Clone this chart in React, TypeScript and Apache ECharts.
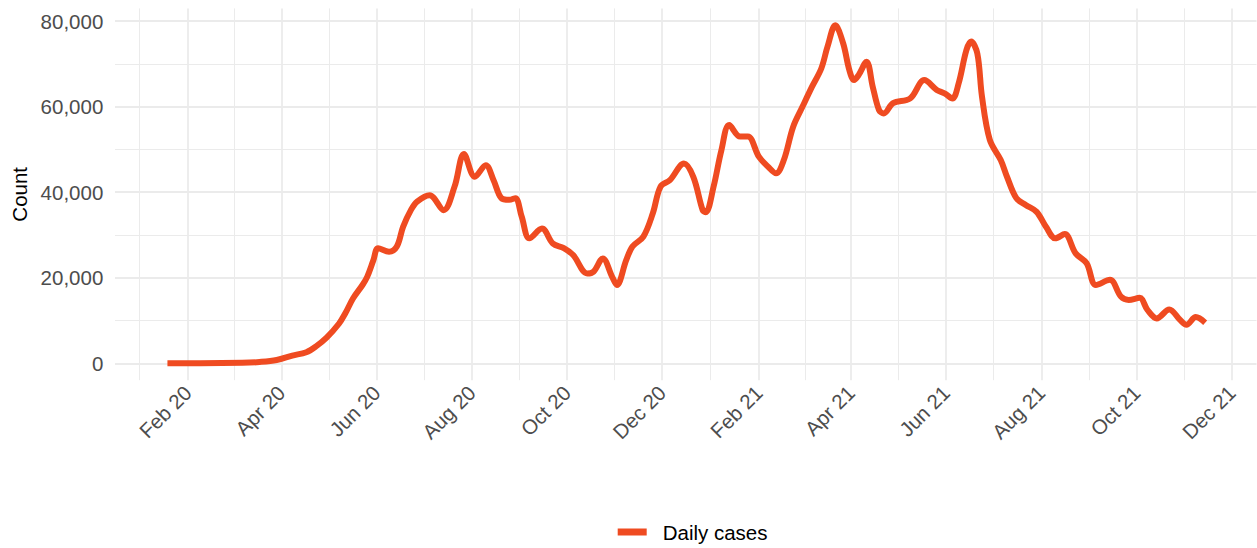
import React, { useEffect, useRef } from "react";
import * as echarts from "echarts";

// ---- data ----
const dates = [
  "2020-01-19", "2020-02-09", "2020-03-07", "2020-03-18", "2020-03-29", "2020-04-08", "2020-04-17",
  "2020-04-23", "2020-04-30", "2020-05-08", "2020-05-12", "2020-05-17", "2020-05-23", "2020-05-26",
  "2020-05-30", "2020-06-02", "2020-06-09", "2020-06-14", "2020-06-18", "2020-06-23", "2020-06-27",
  "2020-07-05", "2020-07-14", "2020-07-21", "2020-07-27", "2020-08-03", "2020-08-10", "2020-08-15",
  "2020-08-20", "2020-08-25", "2020-08-29", "2020-09-02", "2020-09-07", "2020-09-15", "2020-09-22",
  "2020-09-29", "2020-10-05", "2020-10-14", "2020-10-18", "2020-10-24", "2020-10-30", "2020-11-02",
  "2020-11-08", "2020-11-12", "2020-11-19", "2020-11-25", "2020-11-30", "2020-12-06", "2020-12-15",
  "2020-12-21", "2020-12-27", "2020-12-29", "2021-01-03", "2021-01-08", "2021-01-13", "2021-01-20",
  "2021-01-25", "2021-02-01", "2021-02-07", "2021-02-12", "2021-02-17", "2021-02-23", "2021-03-01",
  "2021-03-07", "2021-03-13", "2021-03-17", "2021-03-22", "2021-03-27", "2021-03-31", "2021-04-03",
  "2021-04-06", "2021-04-11", "2021-04-15", "2021-04-19", "2021-04-22", "2021-04-28", "2021-05-09",
  "2021-05-18", "2021-05-26", "2021-05-31", "2021-06-05", "2021-06-09", "2021-06-14", "2021-06-17",
  "2021-06-21", "2021-06-24", "2021-06-29", "2021-07-06", "2021-07-10", "2021-07-16", "2021-07-22",
  "2021-07-29", "2021-08-04", "2021-08-10", "2021-08-16", "2021-08-23", "2021-08-30", "2021-09-05",
  "2021-09-14", "2021-09-21", "2021-09-26", "2021-10-03", "2021-10-08", "2021-10-14", "2021-10-22",
  "2021-10-29", "2021-11-02", "2021-11-08", "2021-11-14",
];
const dailyCases = [
  0, 0, 100, 300, 770, 1800, 2600,
  3900, 6000, 9300, 11700, 15200, 18300, 20200,
  24100, 26900, 26100, 27300, 31900, 35800, 37800,
  39300, 35800, 41300, 48900, 43600, 46300, 42800,
  38600, 38200, 38600, 34300, 29200, 31500, 28000,
  26900, 25300, 21000, 21400, 24500, 20200, 18300,
  24100, 27300, 29600, 35000, 41300, 42800, 46700,
  43600, 35800, 35300, 41300, 49800, 55700, 53000,
  53000, 48300, 45900, 44400, 47500, 55300, 60000,
  64600, 68900, 74000, 79000, 74800, 68500, 66200,
  67400, 70500, 64600, 59200, 58400, 60800, 61900,
  66200, 63900, 63100, 61900, 65400, 73200, 75200,
  72400, 62300, 52200, 47500, 43600, 38600, 37000,
  35400, 31900, 29200, 30200, 25700, 23400, 18300,
  19500, 15600, 14800, 15300, 12500, 10500, 12600,
  10100, 9000, 10800, 9500,
];
const xTickDates = [
  "2020-02-01", "2020-04-01", "2020-06-01", "2020-08-01", "2020-10-01", "2020-12-01",
  "2021-02-01", "2021-04-01", "2021-06-01", "2021-08-01", "2021-10-01", "2021-12-01",
];
const xTickLabels = [
  "Feb 20", "Apr 20", "Jun 20", "Aug 20", "Oct 20", "Dec 20",
  "Feb 21", "Apr 21", "Jun 21", "Aug 21", "Oct 21", "Dec 21",
];
const yTicks = [0, 20000, 40000, 60000, 80000];
const yMinorTicks = [10000, 30000, 50000, 70000];
const seriesName = "Daily cases";
const yTitle = "Count";

// ---- helpers ----
const DAY = 86400000;
function ts(s: string): number {
  const [y, m, d] = s.split("-").map(Number);
  return Date.UTC(y, m - 1, d);
}
const majorTs = xTickDates.map(ts);
// ggplot-style minor breaks: midway between major breaks (one extra major before the first)
const prevMajor = Date.UTC(2019, 11, 1);
const allMajor = [prevMajor, ...majorTs];
const minorTs: number[] = [];
for (let i = 0; i < allMajor.length - 1; i++) minorTs.push((allMajor[i] + allMajor[i + 1]) / 2);

const base = ts("2020-02-01");
const X_MIN = base - 46.6 * DAY;
const X_MAX = base + 684.9 * DAY;
const Y_MIN = -3950;
const Y_MAX = 82950;

const FONT = "'Liberation Sans', Arial, Helvetica, sans-serif";
const LINE_COLOR = "#EF4B21";
const GRID_COLOR = "#EBEBEB";

function xLabel(v: number): string {
  let best = 0;
  let bd = Infinity;
  majorTs.forEach((t, i) => {
    const d = Math.abs(t - v);
    if (d < bd) {
      bd = d;
      best = i;
    }
  });
  return bd < 5 * DAY ? xTickLabels[best] : "";
}

export default function App() {
  const ref = useRef<HTMLDivElement>(null);
  useEffect(() => {
    if (!ref.current) return;
    const chart = echarts.init(ref.current, undefined, { renderer: "svg" });
    const lineData = dates.map((d, i) => [ts(d), dailyCases[i]]);
    const gridMarks: any[] = [];
    minorTs.forEach((t) => gridMarks.push({ xAxis: t, lineStyle: { width: 1, color: GRID_COLOR } }));
    majorTs.forEach((t) => gridMarks.push({ xAxis: t, lineStyle: { width: 1.8, color: GRID_COLOR } }));
    yMinorTicks.forEach((v) => gridMarks.push({ yAxis: v, lineStyle: { width: 1, color: GRID_COLOR } }));
    yTicks.forEach((v) => gridMarks.push({ yAxis: v, lineStyle: { width: 1.8, color: GRID_COLOR } }));

    chart.setOption({
      animation: false,
      backgroundColor: "#ffffff",
      grid: { left: 115, right: 0.5, top: 8.4, bottom: 167.8, outerBoundsMode: "none" },
      legend: {
        data: [seriesName],
        left: 612.7,
        top: 516,
        icon: "rect",
        itemWidth: 29,
        itemHeight: 7,
        selectedMode: false,
        textStyle: { fontSize: 20.5, color: "#000000", fontFamily: FONT, padding: [0, 0, 0, 11], lineHeight: 22 },
      },
      xAxis: {
        type: "value",
        min: X_MIN,
        max: X_MAX,
        axisLine: { show: false },
        axisTick: { show: false },
        splitLine: { show: false },
        minorSplitLine: { show: false },
        axisLabel: {
          customValues: majorTs,
          formatter: (v: number) => xLabel(v),
          rotate: 45,
          margin: 9,
          padding: [24, 0, 0, 0],
          fontSize: 20.5,
          color: "#4D4D4D",
          fontFamily: FONT,
          hideOverlap: false,
          showMinLabel: true,
          showMaxLabel: true,
        },
      },
      yAxis: {
        type: "value",
        min: Y_MIN,
        max: Y_MAX,
        name: yTitle,
        nameLocation: "middle",
        nameGap: 82,
        nameTextStyle: { fontSize: 20.5, color: "#000000", fontFamily: FONT },
        axisLine: { show: false },
        axisTick: { show: false },
        splitLine: { show: false },
        axisLabel: {
          customValues: yTicks,
          formatter: (v: number) => v.toLocaleString("en-US"),
          margin: 11.7,
          fontSize: 20.5,
          color: "#4D4D4D",
          fontFamily: FONT,
        },
      },
      series: [
        {
          name: "grid",
          type: "line",
          z: 0,
          silent: true,
          data: [[X_MIN, 0]],
          showSymbol: false,
          symbol: "none",
          lineStyle: { opacity: 0, width: 0 },
          markLine: {
            z: 0,
            silent: true,
            symbol: ["none", "none"],
            label: { show: false },
            animation: false,
            lineStyle: { type: "solid" },
            data: gridMarks,
          },
        },
        {
          name: seriesName,
          type: "line",
          z: 10,
          data: lineData,
          showSymbol: false,
          symbol: "none",
          smooth: 0.35,
          color: LINE_COLOR,
          lineStyle: { width: 6, color: LINE_COLOR },
        },
      ],
    });
    return () => chart.dispose();
  }, []);
  return (
    <div
      ref={ref}
      style={{ position: "absolute", left: 0, top: 0, width: 1257, height: 548, background: "#fff" }}
    />
  );
}
